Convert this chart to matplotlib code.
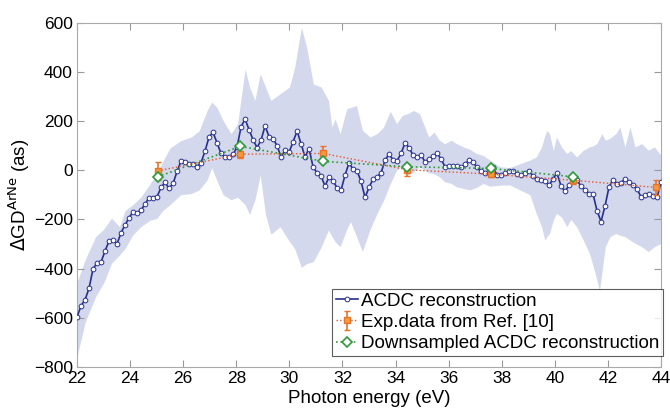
import numpy as np
import matplotlib
matplotlib.use("Agg")
import matplotlib.pyplot as plt

plt.rcParams['font.family'] = ['Liberation Sans', 'DejaVu Sans']

# ACDC reconstruction (evenly sampled from 22 to 44 eV)
acdc_start, acdc_stop = 22.0, 44.0
acdc_y = [-597, -551, -527, -480, -401, -378, -374, -328, -288, -284, -300, -254, -223, -193, -170, -173, -162, -138, -112, -112, -108, -70, -50, -74, -54, -5,
          38, 35, 27, 27, 14, 31, 78, 135, 154, 111, 68, 54, 54, 64, 95, 176, 208, 165, 124, 92, 122, 180, 137, 128, 100,
          54, 81, 73, 115, 159, 108, 54, 88, 14, -11, -23, -65, -27, -43, -72, -81, -20, 30, 3, -3, -45, -111, -70, -36, -28,
          -11, 41, 65, 43, 38, 68, 111, 92, 61, 54, 62, 34, 46, 57, 68, 46, 14, 19, 16, 16, 11, 24, 41, 32, 12,
          -3, -11, -3, 11, -20, -20, -11, -3, -5, -14, -20, -11, -5, -22, -35, -41, -43, -62, -35, -11, -65, -86, -62, -34, -41,
          -65, -81, -95, -97, -165, -209, -146, -68, -38, -57, -51, -35, -47, -61, -78, -108, -101, -97, -105, -111, -50]

# uncertainty band
band_e = [22.0, 22.3, 22.7, 23.0, 23.3, 23.6, 23.8, 24.1, 24.4, 24.75, 25.0, 25.25, 25.5, 25.9, 26.3, 26.6, 26.9, 27.07, 27.26, 27.5,
          27.8, 28.05, 28.33, 28.5, 28.7, 28.9, 29.1, 29.3, 29.65, 30.0, 30.2, 30.45, 30.65, 30.9, 31.2, 31.47, 31.6, 31.72, 31.91, 32.16,
          32.3, 32.53, 32.75, 33.04, 33.3, 33.55, 33.8, 34.04, 34.25, 34.45, 34.67, 34.9, 35.1, 35.25, 35.45, 35.65, 35.85, 36.1, 36.3, 36.55,
          36.8, 37.05, 37.3, 37.56, 37.93, 38.3, 38.7, 39.06, 39.3, 39.5, 39.62, 39.7, 39.8, 39.94, 40.06, 40.25, 40.45, 40.6, 40.82, 41.07,
          41.3, 41.45, 41.58, 41.68, 41.77, 41.9, 42.08, 42.3, 42.45, 42.64, 42.83, 43.02, 43.27, 43.52, 43.75, 44.0]
band_hi = [-455, -365, -270, -240, -195, -230, -165, -140, -110, -55, -15, 40, 90, 120, 135, 160, 243, 277, 257, 203,
           149, 190, 412, 338, 284, 392, 338, 284, 311, 338, 419, 581, 500, 351, 338, 284, 176, 209, 149, 250,
           255, 263, 162, 135, 149, 176, 240, 189, 223, 230, 243, 230, 176, 135, 155, 122, 108, 122, 108, 95,
           85, 68, 60, 41, 14, 11, 27, 41, 54, 95, 140, 162, 149, 81, 135, 95, 68, 80, 54, 81,
           95, 100, 108, 130, 149, 122, 130, 149, 176, 95, 176, 95, 108, 81, 95, 60]
band_lo = [-757, -620, -514, -459, -378, -345, -320, -263, -230, -203, -196, -162, -140, -100, -95, -80, -40, 10, -40, -100,
           -120, -110, -140, -180, -120, -20, -180, -260, -230, -290, -320, -395, -380, -372, -311, -243, -270, -291, -311, -240,
           -209, -270, -331, -240, -176, -122, -54, 0, 14, -19, -7, 14, 0, -10, -14, -27, -47, -54, -68, -74,
           -80, -70, -54, -65, -61, -60, -81, -100, -176, -230, -284, -270, -257, -203, -176, -190, -230, -200, -230, -284,
           -338, -392, -446, -490, -419, -311, -270, -257, -265, -270, -284, -297, -311, -331, -311, -297]

# experimental data (Ref. [10])
exp_e = [25.04, 28.15, 31.28, 34.44, 37.58, 40.69, 43.81]
exp_y = [-3, 65, 68, 2, -16, -41, -70]
exp_err = [35, 15, 30, 25, 10, 15, 30]

# downsampled ACDC reconstruction
down_e = [25.04, 28.15, 31.28, 34.44, 37.6, 40.7]
down_y = [-27, 97, 36, 14, 7, -27]

acdc_e = np.linspace(acdc_start, acdc_stop, len(acdc_y))

fig = plt.figure(figsize=(6.7, 4.16), dpi=100)
ax = fig.add_axes([0.115, 0.118, 0.8716, 0.8275])

ax.fill_between(band_e, band_lo, band_hi, color='#D4D8EC', lw=0, zorder=1)
h1, = ax.plot(acdc_e, acdc_y, '-o', color='#27318C', lw=1.2, ms=3.4, mfc='white', mec='#27318C', mew=0.7,
              label='ACDC reconstruction', zorder=3)
h2 = ax.errorbar(exp_e, exp_y, yerr=exp_err, fmt='s', ls=':', color='#E4572E', lw=1.0, ms=5,
                 mfc='#F59A3C', mec='#E8742A', ecolor='#E8742A', elinewidth=1.2, capsize=2,
                 label='Exp.data from Ref. [10]', zorder=4)
h3, = ax.plot(down_e, down_y, ':D', color='#2E9A3A', lw=1.2, ms=5, mfc='white', mec='#2E9A3A', mew=1.2,
              label='Downsampled ACDC reconstruction', zorder=5)

ax.set_xlim(22, 44)
ax.set_ylim(-800, 600)
ax.set_xticks(np.arange(22, 45, 2))
ax.set_yticks(np.arange(-800, 601, 200))
ax.tick_params(direction='in', top=True, right=True, labelsize=12.5, color='#999999', length=5, pad=3)
for s in ax.spines.values():
    s.set_color('#AAAAAA')
ax.set_xlabel('Photon energy (eV)', fontsize=13.5, labelpad=3)
ax.set_ylabel(r'$\Delta$GD$^{\mathrm{ArNe}}$ (as)', fontsize=13.5, labelpad=1)

leg = ax.legend([h1, h2, h3], ['ACDC reconstruction', 'Exp.data from Ref. [10]', 'Downsampled ACDC reconstruction'],
                loc='lower right', bbox_to_anchor=(1.004, 0.032), fontsize=13.5, frameon=True, fancybox=False,
                borderpad=0.2, handlelength=1.2, handletextpad=0.15, labelspacing=0.22, borderaxespad=0.0)
leg.get_frame().set_edgecolor('#333333')
leg.get_frame().set_linewidth(0.8)

fig.savefig('out.png', dpi=100)
